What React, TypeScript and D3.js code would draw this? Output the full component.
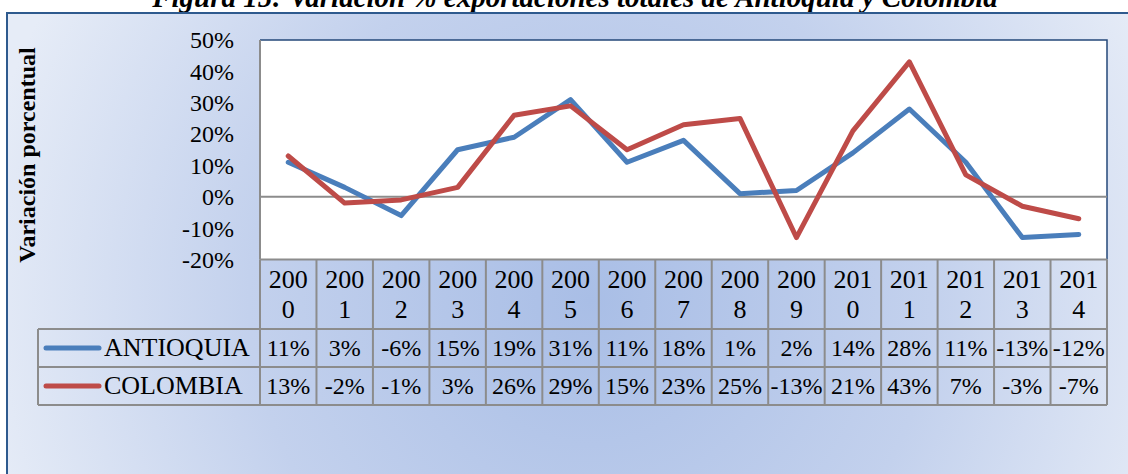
import React from 'react';
import * as d3 from 'd3';

// years shown in the table header, split over two lines like the original
const years = ['2000', '2001', '2002', '2003', '2004', '2005', '2006', '2007', '2008', '2009', '2010', '2011', '2012', '2013', '2014'];
const antioquia = [11, 3, -6, 15, 19, 31, 11, 18, 1, 2, 14, 28, 11, -13, -12];
const colombia = [13, -2, -1, 3, 26, 29, 15, 23, 25, -13, 21, 43, 7, -3, -7];
const yTicks = [50, 40, 30, 20, 10, 0, -10, -20];

const series = [
  { name: 'ANTIOQUIA', values: antioquia, color: '#4a7ebb' },
  { name: 'COLOMBIA', values: colombia, color: '#be4b48' },
];

const W = 1128;
const H = 474;
const PLOT_LEFT = 260;
const PLOT_RIGHT = 1107;
const PLOT_TOP = 40;
const PLOT_BOTTOM = 259.5;
const HEAD_BOTTOM = 329;
const ROW_H = 38;
const LEGEND_LEFT = 38;
const FONT = '"Liberation Serif", "Times New Roman", serif';
const GRID = '#8c8c8c';

export default function App() {
  const x = d3.scaleBand<string>().domain(years).range([PLOT_LEFT, PLOT_RIGHT]);
  const y = d3.scaleLinear().domain([-20, 50]).range([PLOT_BOTTOM, PLOT_TOP]);
  const cx = (yr: string) => (x(yr) as number) + x.bandwidth() / 2;

  const line = d3.line<number>()
    .x((_, i) => cx(years[i]))
    .y((d) => y(d));

  const tableBottom = HEAD_BOTTOM + ROW_H * series.length;

  return (
    <svg width={W} height={H} style={{ position: 'absolute', left: 0, top: 0 }}
      fontFamily={FONT}>
      <defs>
        <radialGradient id="bg" gradientUnits="userSpaceOnUse" cx={590} cy={300} r={620}>
          <stop offset="0" stopColor="#a9bee6" />
          <stop offset="0.55" stopColor="#c3d1ed" />
          <stop offset="1" stopColor="#e6ecf7" />
        </radialGradient>
      </defs>
      <rect x={0} y={0} width={W} height={H} fill="#ffffff" />

      {/* title, mostly cut off above the picture */}
      <text x={575} y={7} textAnchor="middle" fontSize={29} fontWeight="bold" fontStyle="italic">
        Figura 15: Variación % exportaciones totales de Antioquia y Colombia
      </text>

      {/* chart frame */}
      <rect x={7} y={13} width={W + 20} height={H + 20} fill="url(#bg)" stroke="#2e5a8e" strokeWidth={2} />

      {/* plot area */}
      <rect x={PLOT_LEFT} y={PLOT_TOP} width={PLOT_RIGHT - PLOT_LEFT} height={PLOT_BOTTOM - PLOT_TOP}
        fill="#ffffff" />
      <path d={`M${PLOT_LEFT},${PLOT_TOP}H${PLOT_RIGHT}V${PLOT_BOTTOM}`} fill="none" stroke="#24487a" strokeWidth={1.5} />
      <line x1={PLOT_LEFT} x2={PLOT_LEFT} y1={PLOT_TOP} y2={PLOT_BOTTOM} stroke={GRID} strokeWidth={2} />
      <line x1={PLOT_LEFT} x2={PLOT_RIGHT} y1={y(0)} y2={y(0)} stroke={GRID} strokeWidth={2} />

      {yTicks.map((t) => (
        <text key={t} x={234} y={y(t)} dy="0.35em" textAnchor="end" fontSize={24}>
          {`${t}%`}
        </text>
      ))}

      <text transform={`translate(35,155) rotate(-90)`} textAnchor="middle"
        fontSize={24} fontWeight="bold">
        Variación porcentual
      </text>

      {series.map((s) => (
        <path key={s.name} d={line(s.values) || ''} fill="none" stroke={s.color} strokeWidth={5}
          strokeLinejoin="round" strokeLinecap="round" />
      ))}

      {/* data table */}
      <g stroke={GRID} strokeWidth={2} fill="none">
        <line x1={PLOT_LEFT} x2={PLOT_RIGHT} y1={PLOT_BOTTOM} y2={PLOT_BOTTOM} />
        {series.map((s, i) => (
          <line key={s.name} x1={LEGEND_LEFT} x2={PLOT_RIGHT} y1={HEAD_BOTTOM + ROW_H * i} y2={HEAD_BOTTOM + ROW_H * i} />
        ))}
        <line x1={LEGEND_LEFT} x2={PLOT_RIGHT} y1={tableBottom} y2={tableBottom} />
        <line x1={LEGEND_LEFT} x2={LEGEND_LEFT} y1={HEAD_BOTTOM} y2={tableBottom} />
        {years.map((yr) => (
          <line key={yr} x1={x(yr)} x2={x(yr)} y1={PLOT_BOTTOM} y2={tableBottom} />
        ))}
        <line x1={PLOT_RIGHT} x2={PLOT_RIGHT} y1={PLOT_BOTTOM} y2={tableBottom} />
      </g>

      {years.map((yr) => (
        <text key={yr} x={cx(yr)} textAnchor="middle" fontSize={26}>
          <tspan x={cx(yr)} y={288}>{yr.slice(0, 3)}</tspan>
          <tspan x={cx(yr)} y={318}>{yr.slice(3)}</tspan>
        </text>
      ))}

      {series.map((s, i) => {
        const mid = HEAD_BOTTOM + ROW_H * i + ROW_H / 2;
        return (
          <g key={s.name}>
            <line x1={46} x2={99} y1={mid} y2={mid} stroke={s.color} strokeWidth={5} strokeLinecap="round" />
            <text x={104} y={mid + 8} fontSize={26}>{s.name}</text>
            {s.values.map((v, j) => (
              <text key={j} x={cx(years[j])} y={mid + 8} textAnchor="middle" fontSize={24}>
                {`${v}%`}
              </text>
            ))}
          </g>
        );
      })}
    </svg>
  );
}
